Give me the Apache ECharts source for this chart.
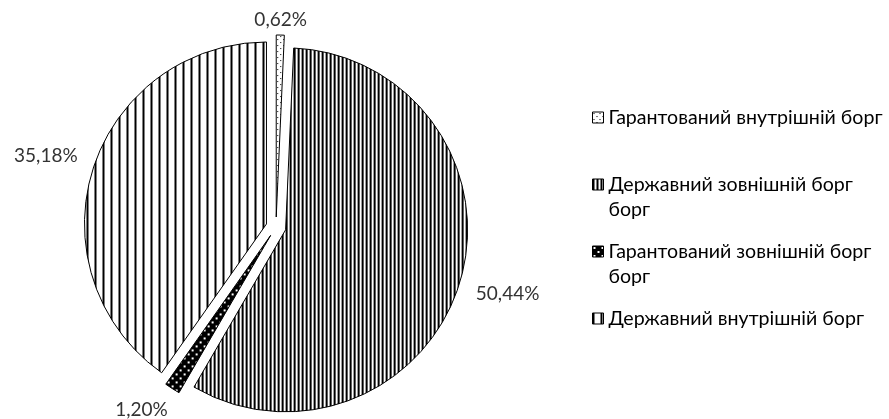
<!DOCTYPE html>
<html><head><meta charset="utf-8">
<script src="https://cdn.jsdelivr.net/npm/echarts@6/dist/echarts.min.js"></script>
<style>html,body{margin:0;padding:0;background:#fff}#c{width:889px;height:419px}</style>
</head><body><div id="c"></div>
<script>
const categories = ['Гарантований внутрішній борг', 'Державний зовнішній борг борг', 'Гарантований зовнішній борг борг', 'Державний внутрішній борг'];
const values = [0.62, 50.44, 1.20, 35.18];
const legendLines = [['Гарантований внутрішній борг', ''], ['Державний зовнішній борг', 'борг'], ['Гарантований зовнішній борг', 'борг'], ['Державний внутрішній борг', '']];
const patternKinds = ['dots', 'denseVertical', 'blackDots', 'wideVertical'];

function makePattern(kind) {
  const c = document.createElement('canvas');
  const ctx = c.getContext('2d');
  if (kind === 'dots') {
    c.width = 6; c.height = 6;
    ctx.fillStyle = '#fff'; ctx.fillRect(0, 0, 6, 6);
    ctx.fillStyle = '#000'; ctx.fillRect(1, 1, 1, 1); ctx.fillRect(4, 4, 1, 1);
  } else if (kind === 'denseVertical') {
    c.width = 4; c.height = 4;
    ctx.fillStyle = '#fff'; ctx.fillRect(0, 0, 4, 4);
    ctx.fillStyle = '#000'; ctx.fillRect(0, 0, 2, 4);
  } else if (kind === 'blackDots') {
    c.width = 8; c.height = 8;
    ctx.fillStyle = '#000'; ctx.fillRect(0, 0, 8, 8);
    ctx.fillStyle = '#fff'; ctx.fillRect(1, 1, 2, 2); ctx.fillRect(5, 5, 2, 2);
  } else {
    c.width = 8; c.height = 8;
    ctx.fillStyle = '#fff'; ctx.fillRect(0, 0, 8, 8);
    ctx.fillStyle = '#000'; ctx.fillRect(0, 0, 2, 8);
  }
  return { image: c, repeat: 'repeat' };
}

const EXPLODE = 10;
const PIE_CENTER = [276, 227];
const chart = echarts.init(document.getElementById('c'), null, { renderer: 'canvas' });
const pieData = categories.map((name, i) => ({
  name: name,
  value: values[i],
  selected: true,
  itemStyle: { color: makePattern(patternKinds[i]) }
}));

chart.setOption({
  animation: false,
  backgroundColor: '#fff',
  legend: {
    orient: 'vertical',
    left: 592,
    top: 80,
    padding: 0,
    itemWidth: 11,
    itemHeight: 11,
    itemGap: -8,
    selectedMode: false,
    icon: 'rect',
    itemStyle: { borderColor: '#000', borderWidth: 1 },
    formatter: function (name) {
      const l = legendLines[categories.indexOf(name)];
      return '\n' + l[0] + '\n' + l[1];
    },
    textStyle: { fontFamily: 'Lato', fontSize: 19.6, color: '#000', lineHeight: 25 },
    data: categories
  },
  series: [{
    type: 'pie',
    center: PIE_CENTER,
    radius: 182,
    startAngle: 90,
    clockwise: true,
    avoidLabelOverlap: false,
    selectedMode: 'multiple',
    selectedOffset: EXPLODE,
    emphasis: { disabled: true },
    itemStyle: { borderColor: '#000', borderWidth: 1 },
    select: { itemStyle: { borderColor: '#000', borderWidth: 1 } },
    label: {
      show: true,
      position: 'outside',
      fontFamily: 'Lato',
      fontSize: 19,
      color: '#333',
      formatter: function (p) { return p.value.toFixed(2).replace('.', ',') + '%'; }
    },
    labelLine: { show: true, length: 10, length2: 0, lineStyle: { opacity: 0 } },
    labelLayout: function (p) {
      const pts = p.labelLinePoints;
      if (!pts) return {};
      const vx = pts[1][0] - pts[0][0], vy = pts[1][1] - pts[0][1];
      const L = Math.hypot(vx, vy) || 1;
      const ux = vx / L, uy = vy / L;
      // label direction, slightly flattened
      const m = Math.hypot(ux, uy * 0.9);
      const lx = ux / m, ly = uy * 0.9 / m;
      const r = p.labelRect, w = r.width, h = r.height;
      const ox = pts[0][0] + ux * EXPLODE, oy = pts[0][1] + uy * EXPLODE;
      const d = 4 + Math.abs(lx) * (w / 2 + 12) + Math.abs(ly) * (h / 2 + 1);
      let fx = ox + lx * d, fy = oy + ly * d;
      // keep the label inside the chart, sliding it around the pie
      const H = chart.getHeight();
      if (fy + h / 2 > H) {
        const pcx = PIE_CENTER[0] + ux * EXPLODE, pcy = PIE_CENTER[1] + uy * EXPLODE;
        const Rl = Math.hypot(fx - pcx, fy - pcy);
        fy = H - h / 2;
        const ddy = fy - pcy;
        fx = pcx + Math.sign(ux) * Math.sqrt(Math.max(0, Rl * Rl - ddy * ddy));
      }
      const tx = fx - ux * EXPLODE, ty = fy - uy * EXPLODE;
      return { dx: tx - (r.x + w / 2), dy: ty - (r.y + h / 2) };
    },
    data: pieData
  }]
});
</script>
</body></html>
